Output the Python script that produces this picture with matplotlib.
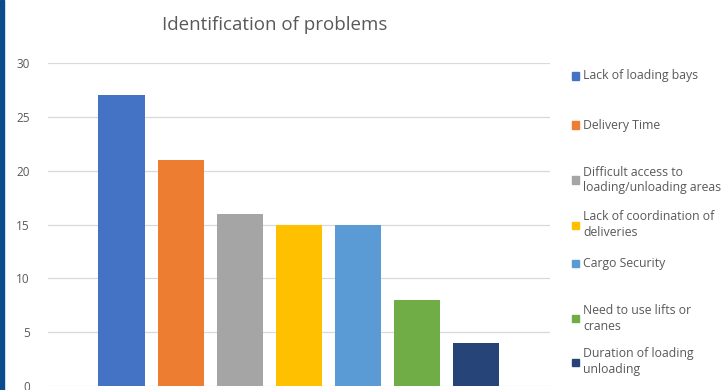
import matplotlib
matplotlib.use('Agg')
import matplotlib.pyplot as plt
from matplotlib.patches import Rectangle

# Data
problems = ["Lack of loading bays", "Delivery Time",
            "Difficult access to\nloading/unloading areas",
            "Lack of coordination of\ndeliveries", "Cargo Security",
            "Need to use lifts or\ncranes", "Duration of loading\nunloading"]
counts = [27, 21, 16, 15, 15, 8, 4]
colors = ["#4472C4", "#ED7D31", "#A5A5A5", "#FFC000", "#5B9BD5", "#70AD47", "#264478"]
yticks = [0, 5, 10, 15, 20, 25, 30]

plt.rcParams['font.family'] = ['Open Sans', 'DejaVu Sans']
text_col = "#595959"

fig = plt.figure(figsize=(7.22, 3.90), dpi=100)
ax = fig.add_axes([48/722, 1 - 386/390, (550 - 48)/722, (386 - 63)/390])

x = list(range(len(counts)))
ax.bar(x, counts, width=0.78, color=colors, zorder=3)

ax.set_xlim(-1.244, 7.25)
ax.set_ylim(0, 30)
ax.set_yticks(yticks)
ax.set_xticks([])
ax.tick_params(axis='y', length=0, pad=13, labelsize=8.5, labelcolor=text_col)
ax.grid(axis='y', color="#D9D9D9", lw=0.9, zorder=0)
for s in ax.spines.values():
    s.set_visible(False)

fig.text(275/722, 1 - 25/390, "Identification of problems", ha='center', va='center',
         fontsize=13.5, color=text_col)

# legend, placed by hand like the Excel one
leg_y = [76, 125, 180, 225, 263, 318, 362]
for lab, c, yy in zip(problems, colors, leg_y):
    fig.patches.append(Rectangle((572/722, 1 - (yy + 3.5)/390), 7/722, 7/390,
                                 transform=fig.transFigure, color=c))
    fig.text(583/722, 1 - yy/390, lab, ha='left', va='center', fontsize=8.8,
             color=text_col, linespacing=1.3)

# dark blue stripe on the left edge
fig.patches.append(Rectangle((0, 0), 4/722, 1, transform=fig.transFigure, color="#0B4C8C"))

fig.savefig("out.png", dpi=100)
